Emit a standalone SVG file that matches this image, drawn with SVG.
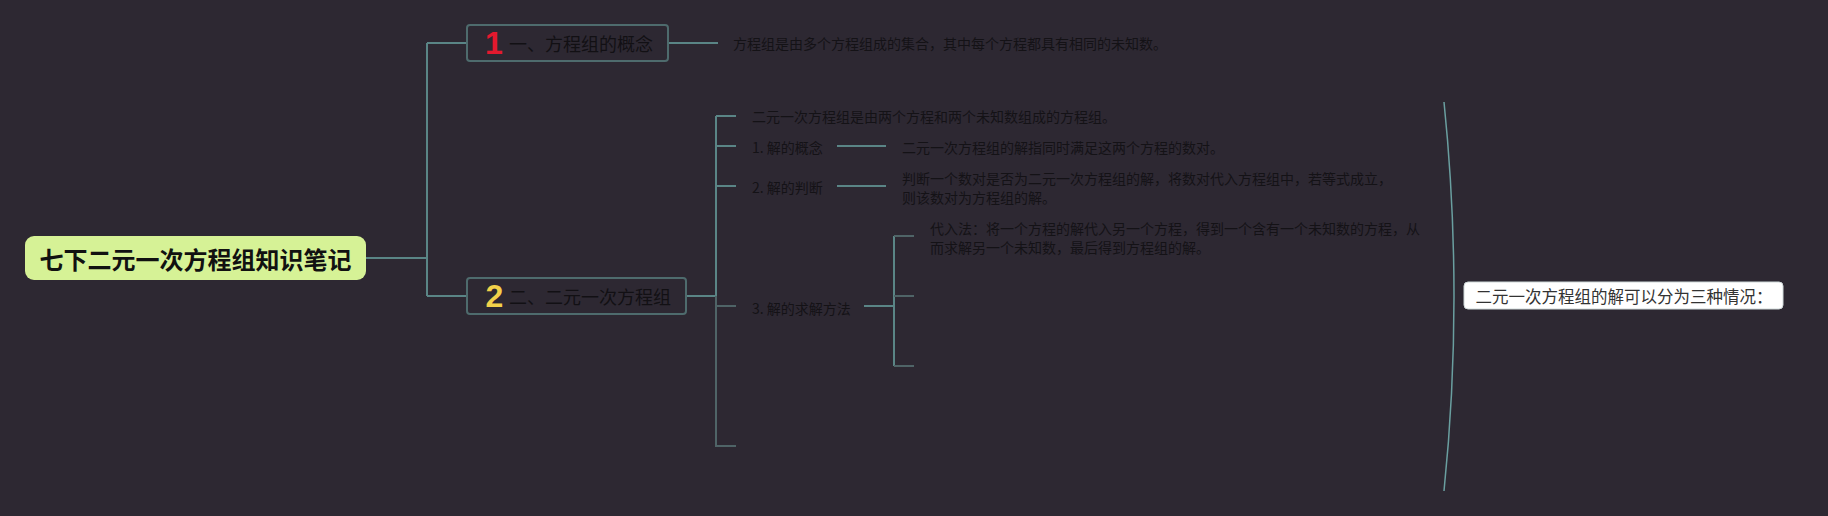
<svg xmlns="http://www.w3.org/2000/svg" width="1828" height="516" viewBox="0 0 1828 516">
<style>
.cjk{font-family:"Noto Sans CJK SC","Noto Sans",sans-serif;}
.t14{font-size:14px;fill:#141216;dominant-baseline:central;}
.t18{font-size:18px;fill:#121014;dominant-baseline:central;}
.ln{fill:none;stroke:#5a8586;stroke-width:2;}
.ln2{fill:none;stroke:#4f6467;stroke-width:2;}
.box{fill:#2d2832;stroke:#4e6b6d;stroke-width:2;}
.num{font-family:"Liberation Sans",Arial,sans-serif;font-weight:700;font-size:32px;text-anchor:middle;}
</style>
<rect width="1828" height="516" fill="#2d2832"/>
<g id="connectors">
  <path class="ln" d="M366,258 H427 M427,43 V296 M427,43 H467 M427,296 H467"/>
  <path class="ln" d="M668,43 H718"/>
  <path class="ln" d="M686,296 H716 M716,116 V296 M716,116 H736 M716,146 H736 M716,186 H736"/>
  <path class="ln2" d="M716,296 V446 H736 M716,306 H736"/>
  <path class="ln" d="M837,146 H886 M837,186 H886"/>
  <path class="ln" d="M864,306 H894 M894,236 V366"/>
  <path class="ln2" d="M894,236 H914 M894,296 H914 M894,366 H914"/>
  <path fill="none" stroke="#6a9fa0" stroke-width="1.5" d="M1444,102 Q1464,297 1444,491"/>
</g>
<g id="root">
  <rect x="25" y="236" width="341" height="44" rx="9" fill="#d6f296"/>
  <text class="cjk" x="195.5" y="258" font-size="24" font-weight="700" fill="#111" text-anchor="middle" dominant-baseline="central">七下二元一次方程组知识笔记</text>
</g>
<g id="node1">
  <rect class="box" x="467" y="25" width="201" height="36" rx="3"/>
  <text class="num" x="494" y="54" fill="#e3192e">1</text>
  <text class="cjk t18" x="509" y="43">一、方程组的概念</text>
</g>
<g id="node1-desc">
  <text class="cjk t14" x="733" y="43">方程组是由多个方程组成的集合，其中每个方程都具有相同的未知数。</text>
</g>
<g id="node2">
  <rect class="box" x="467" y="278" width="219" height="36" rx="3"/>
  <text class="num" x="494.5" y="307" fill="#f2d14a">2</text>
  <text class="cjk t18" x="509" y="296">二、二元一次方程组</text>
</g>
<g id="n2-def">
  <text class="cjk t14" x="752" y="116">二元一次方程组是由两个方程和两个未知数组成的方程组。</text>
</g>
<g id="n2-1">
  <text class="cjk t14" x="752" y="147">1. 解的概念</text>
</g>
<g id="n2-1-desc">
  <text class="cjk t14" x="902" y="147">二元一次方程组的解指同时满足这两个方程的数对。</text>
</g>
<g id="n2-2">
  <text class="cjk t14" x="752" y="187">2. 解的判断</text>
</g>
<g id="n2-2-desc">
  <text class="cjk t14" x="902" y="178">判断一个数对是否为二元一次方程组的解，将数对代入方程组中，若等式成立，</text>
  <text class="cjk t14" x="902" y="197">则该数对为方程组的解。</text>
</g>
<g id="n2-3">
  <text class="cjk t14" x="752" y="308">3. 解的求解方法</text>
</g>
<g id="n2-3-a">
  <text class="cjk t14" x="930" y="228">代入法：将一个方程的解代入另一个方程，得到一个含有一个未知数的方程，从</text>
  <text class="cjk t14" x="930" y="247">而求解另一个未知数，最后得到方程组的解。</text>
</g>
<g id="cases">
  <rect x="1464" y="282" width="319" height="27" rx="4" fill="#ffffff" stroke="#cfd8d8" stroke-width="1"/>
  <text class="cjk" x="1624" y="296" font-size="16.5" fill="#333" text-anchor="middle" dominant-baseline="central">二元一次方程组的解可以分为三种情况：</text>
</g>
</svg>
